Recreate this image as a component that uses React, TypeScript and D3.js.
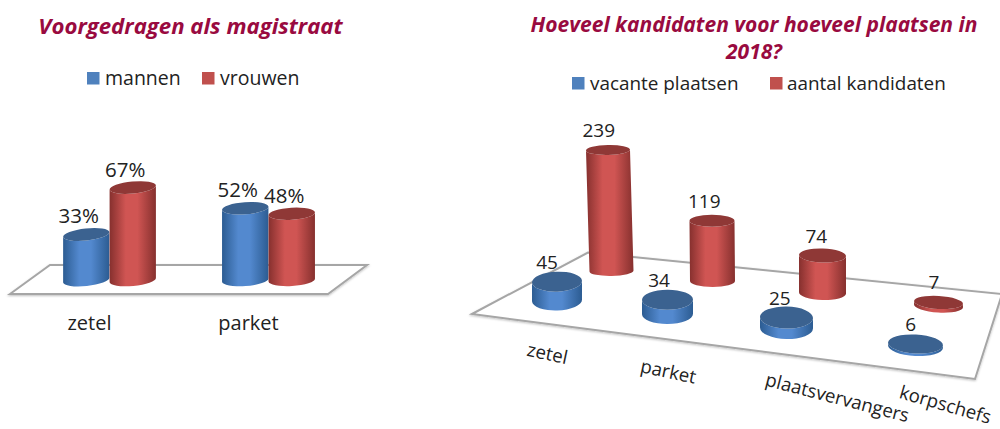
import * as d3 from 'd3'

// Left chart data
const seatCategories = ['zetel', 'parket']
const mannen = [33, 52]
const vrouwen = [67, 48]

// Right chart data
const roleCategories = ['zetel', 'parket', 'plaatsvervangers', 'korpschefs']
const vacantePlaatsen = [45, 34, 25, 6]
const aantalKandidaten = [239, 119, 74, 7]

const FONT = '"Open Sans", sans-serif'
const TITLE_COLOR = '#990a40'
const TEXT_COLOR = '#222222'
const BLUE = { edge: '#2c5c92', mid: '#5389cf', top: '#3b6290', legend: '#4f81bd' }
const RED = { edge: '#86302e', mid: '#d05553', top: '#8f3836', legend: '#c0504d' }

type Palette = typeof BLUE

// Cylinder with optional lean of the top and tilted end caps
function Cylinder({ cx, base, height, rx, ry, tilt = 0, lean = 0, color, id }: {
  cx: number, base: number, height: number, rx: number, ry: number,
  tilt?: number, lean?: number, color: Palette, id: string
}) {
  const top = base - height
  const rad = (tilt * Math.PI) / 180
  const dx = rx * Math.cos(rad)
  const dy = rx * Math.sin(rad)
  const topCx = cx + lean
  const body = `M${topCx - dx},${top - dy} L${cx - dx},${base - dy}
    A${rx},${ry} ${tilt} 0 0 ${cx + dx},${base + dy}
    L${topCx + dx},${top + dy}
    A${rx},${ry} ${tilt} 0 1 ${topCx - dx},${top - dy} Z`
  return (
    <g>
      <path d={body} fill={`url(#${id})`} />
      <ellipse cx={topCx} cy={top} rx={rx} ry={ry} fill={color.top} transform={`rotate(${tilt} ${topCx} ${top})`} />
    </g>
  )
}

function Legend({ items, y, fontSize }: { items: { label: string, x: number, textX: number, color: string }[], y: number, fontSize: number }) {
  return (
    <g>
      {items.map(d => (
        <g key={d.label}>
          <rect x={d.x} y={y - 13} width={12.5} height={12.5} fill={d.color} />
          <text x={d.textX} y={y} fontSize={fontSize} fill={TEXT_COLOR} fontFamily={FONT}>{d.label}</text>
        </g>
      ))}
    </g>
  )
}

function Gradients() {
  const defs: [string, Palette][] = [['cylBlue', BLUE], ['cylRed', RED]]
  return (
    <defs>
      {defs.map(([id, c]) => (
        <linearGradient id={id} key={id} x1="0" x2="1" y1="0" y2="0">
          <stop offset="0" stopColor={c.edge} />
          <stop offset="0.35" stopColor={c.mid} />
          <stop offset="0.6" stopColor={c.mid} />
          <stop offset="1" stopColor={c.edge} />
        </linearGradient>
      ))}
      <filter id="floorShadow" x="-5%" y="-10%" width="110%" height="125%">
        <feDropShadow dx="0" dy="1" stdDeviation="0.8" floodColor="#000" floodOpacity="0.25" />
      </filter>
    </defs>
  )
}

function LeftChart() {
  const x0 = d3.scaleBand().domain(seatCategories).range([63, 315]).paddingInner(0.415)
  const x1 = d3.scaleBand().domain(['mannen', 'vrouwen']).range([0, x0.bandwidth()])
  const h = d3.scaleLinear().domain([0, 100]).range([0, 138])
  const tilt = d3.scaleLinear().domain([86, 291]).range([-6, -3.5])
  const base = 280
  const floor = d3.line()([[10, 294], [50, 265], [367, 265], [328, 294]]) + 'Z'

  const bars = seatCategories.flatMap((cat, i) => [
    { key: cat + 'm', cat, value: mannen[i], series: 'mannen', color: BLUE, id: 'cylBlue' },
    { key: cat + 'v', cat, value: vrouwen[i], series: 'vrouwen', color: RED, id: 'cylRed' },
  ])

  return (
    <g>
      <text x={190.5} y={34} textAnchor="middle" fontSize={22.2} fontWeight="bold" fontStyle="italic" fill={TITLE_COLOR} fontFamily={FONT}>
        Voorgedragen als magistraat
      </text>
      <Legend y={85} fontSize={19.5} items={[
        { label: 'mannen', x: 87, textX: 105, color: BLUE.legend },
        { label: 'vrouwen', x: 202, textX: 220, color: RED.legend },
      ]} />
      <path d={floor} fill="#fff" stroke="#a6a6a6" strokeWidth={2} filter="url(#floorShadow)" />
      {bars.map(b => {
        const cx = x0(b.cat)! + x1(b.series)! + x1.bandwidth() / 2
        return (
          <g key={b.key}>
            <Cylinder cx={cx} base={base} height={h(b.value)} rx={x1.bandwidth() / 2} ry={6} tilt={tilt(cx)} color={b.color} id={b.id} />
            <text x={cx - 7.5} y={base - h(b.value) - 11} textAnchor="middle" fontSize={20.5} fill={TEXT_COLOR} fontFamily={FONT}>
              {b.value}%
            </text>
          </g>
        )
      })}
      {seatCategories.map(cat => (
        <text key={cat} x={x0(cat)! + x0.bandwidth() / 2 - 20} y={330} textAnchor="middle" fontSize={20} fill={TEXT_COLOR} fontFamily={FONT}>
          {cat}
        </text>
      ))}
    </g>
  )
}

function RightChart() {
  const slots = [0, 1, 2, 3]
  const slot = (range: number[]) => d3.scaleLinear().domain(slots).range(range)

  // perspective of the floor: each slot has its own position and size per row
  const front = {
    x: slot([557, 667.5, 786.5, 915.5]), base: slot([300.5, 314, 328, 346.5]),
    rx: slot([25, 25.5, 26.5, 27.5]), ry: slot([10, 10, 11, 9.5]),
    h: d3.scaleLinear().domain([0, 239]).range([0, 100]),
  }
  const back = {
    x: slot([611.5, 712.5, 822.5, 938.5]), base: slot([271, 281, 293, 306]),
    rx: slot([22, 22.5, 23.5, 24.5]), ry: slot([5, 6, 7, 6.5]),
    h: d3.scaleLinear().domain([0, 239]).range([0, 121]),
  }
  const lean = slot([-3.5, -0.5, 0, 0])
  const tilt = d3.scaleLinear().domain([557, 938]).range([-2, 3.5])
  const labelDx = d3.scaleLinear().domain([557, 938]).range([-10, -4.5])

  const floor = d3.line()([[472, 314], [588, 252.5], [1002, 294], [975, 379]]) + 'Z'
  const tickLabels = [
    { x: 547, y: 355, angle: 12 },
    { x: 668, y: 373, angle: 12 },
    { x: 837, y: 399, angle: 14.5 },
    { x: 945, y: 406, angle: 16 },
  ]

  const label = (cx: number, top: number, value: number, key: string) => (
    <text key={key} x={cx + labelDx(cx)} y={top - 13} textAnchor="middle" fontSize={19} fill={TEXT_COLOR} fontFamily={FONT}>
      {value}
    </text>
  )

  return (
    <g>
      <text textAnchor="middle" fontSize={21} fontWeight="bold" fontStyle="italic" fill={TITLE_COLOR} fontFamily={FONT}>
        <tspan x={754} y={32}>Hoeveel kandidaten voor hoeveel plaatsen in</tspan>
        <tspan x={754} y={59}>2018?</tspan>
      </text>
      <Legend y={90} fontSize={18.9} items={[
        { label: 'vacante plaatsen', x: 572, textX: 590, color: BLUE.legend },
        { label: 'aantal kandidaten', x: 770, textX: 787, color: RED.legend },
      ]} />
      <path d={floor} fill="#fff" stroke="#a6a6a6" strokeWidth={2} filter="url(#floorShadow)" />
      {/* back row first so the front row overlaps it */}
      {aantalKandidaten.map((v, i) => (
        <g key={'k' + i}>
          <Cylinder cx={back.x(i)} base={back.base(i)} height={back.h(v)} rx={back.rx(i)} ry={back.ry(i)}
            tilt={tilt(back.x(i))} lean={lean(i)} color={RED} id="cylRed" />
          {label(back.x(i) + lean(i), back.base(i) - back.h(v), v, 'lk' + i)}
        </g>
      ))}
      {vacantePlaatsen.map((v, i) => (
        <g key={'v' + i}>
          <Cylinder cx={front.x(i)} base={front.base(i)} height={front.h(v)} rx={front.rx(i)} ry={front.ry(i)}
            tilt={tilt(front.x(i))} color={BLUE} id="cylBlue" />
          {label(front.x(i), front.base(i) - front.h(v), v, 'lv' + i)}
        </g>
      ))}
      {roleCategories.map((cat, i) => (
        <text key={cat} textAnchor="middle" fontSize={18.6} fill={TEXT_COLOR} fontFamily={FONT} dominantBaseline="middle"
          transform={`translate(${tickLabels[i].x},${tickLabels[i].y}) rotate(${tickLabels[i].angle})`}>
          {cat}
        </text>
      ))}
    </g>
  )
}

export default function App() {
  return (
    <>
      <style>{`body { margin: 0; background: #fff; }`}</style>
      <svg width={1000} height={429} style={{ display: 'block' }}>
        <Gradients />
        <rect width={1000} height={429} fill="#fff" />
        <LeftChart />
        <RightChart />
      </svg>
    </>
  )
}
